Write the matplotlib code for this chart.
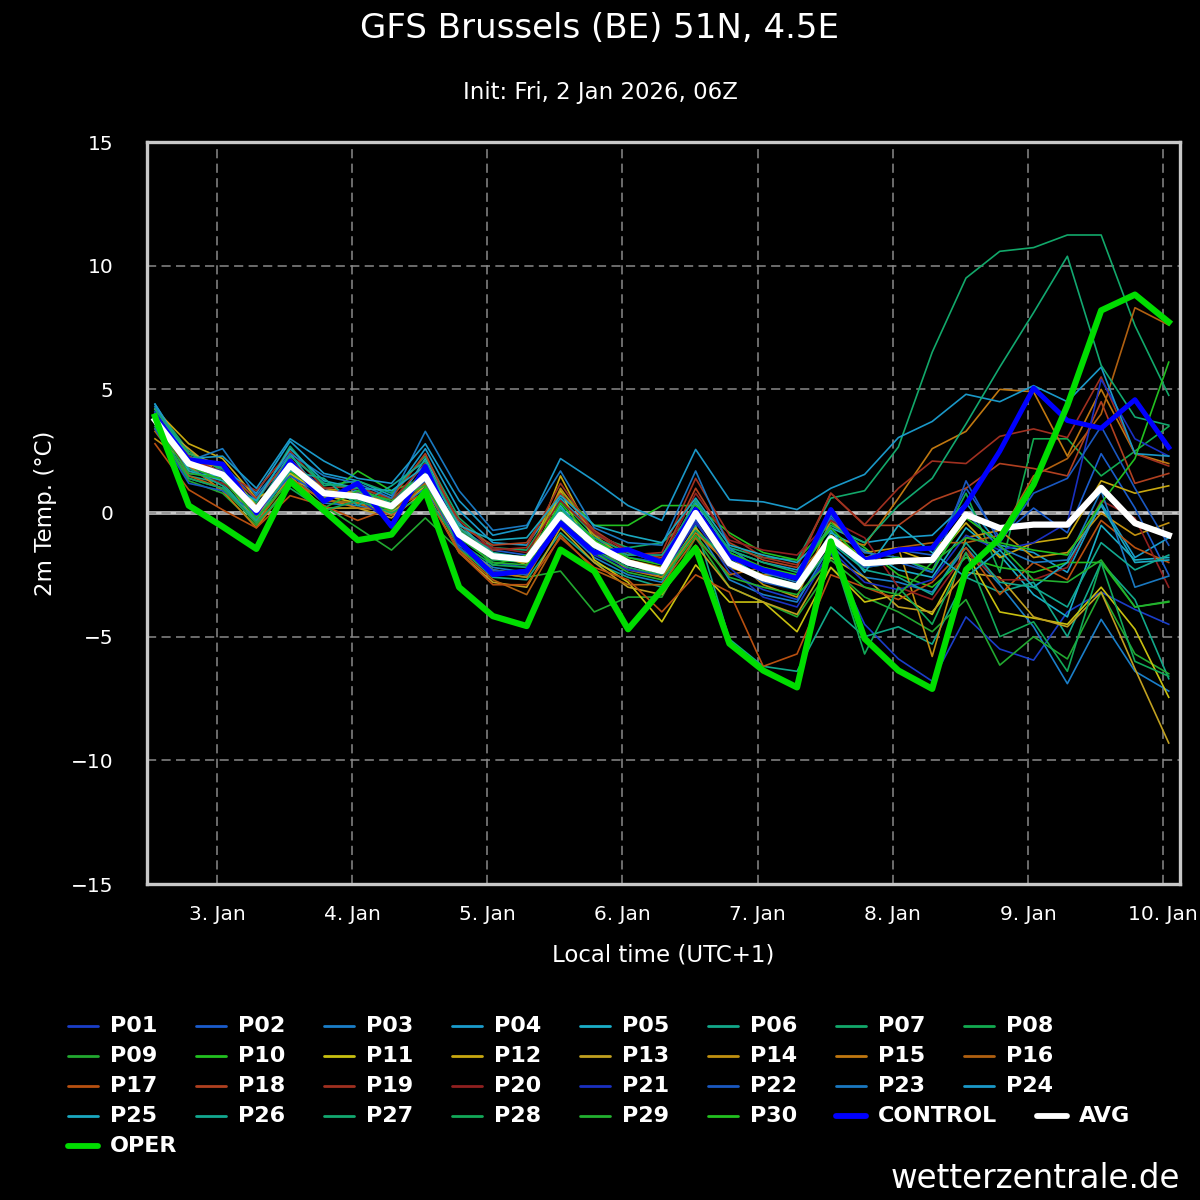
import matplotlib
matplotlib.use("Agg")
import matplotlib.pyplot as plt
from matplotlib.lines import Line2D
import pandas as pd

plt.rcParams['font.family'] = ['DejaVu Sans']

# ---- data ----
start_time = "2026-01-02 13:00"   # local time (UTC+1), 6-hourly steps
n_steps = 31
day_ticks = ["2026-01-03", "2026-01-04", "2026-01-05", "2026-01-06",
             "2026-01-07", "2026-01-08", "2026-01-09", "2026-01-10"]
day_labels = ["3. Jan", "4. Jan", "5. Jan", "6. Jan", "7. Jan", "8. Jan", "9. Jan", "10. Jan"]
y_ticks = [-15, -10, -5, 0, 5, 10, 15]

P01 = [4.0, 1.8, 1.4, 0.2, 2.1, 1.0, 0.6, 0.0, 1.9, -1.0, -2.0, -2.2, -0.4, -1.6, -2.2, -2.6, -0.3, -2.4, -3.1, -3.5, -1.6, -4.5, -5.9, -6.8, -4.2, -5.5, -5.95, -4.0, -3.2, -3.9, -4.5]
P02 = [4.2, 2.2, 2.0, 0.5, 2.3, 1.2, 0.9, 0.4, 2.0, -0.6, -1.5, -1.7, 0.2, -1.0, -1.8, -2.0, 0.5, -1.6, -2.3, -2.6, -0.2, -1.8, -1.5, -1.7, 1.0, -1.0, 0.2, -0.8, 2.4, 0.2, -2.5]
P03 = [3.6, 1.4, 1.0, -0.2, 1.6, 0.4, 0.3, 0.0, 1.0, -1.3, -2.2, -2.4, -0.5, -1.8, -2.5, -2.8, -0.6, -2.7, -3.3, -3.6, -1.3, -2.6, -2.8, -3.2, -1.4, -2.9, -4.6, -6.9, -4.3, -6.4, -7.2]
P04 = [4.4, 2.3, 1.8, 0.8, 2.9, 1.6, 1.3, 0.7, 2.6, 0.1, -1.2, -1.3, 0.6, -0.8, -1.5, -1.9, 0.4, -1.5, -2.0, -2.3, -0.6, -1.2, -1.0, -0.9, 0.4, -1.3, -1.6, -2.4, 0.4, -1.8, -1.0]
P05 = [4.1, 1.6, 1.5, 0.1, 2.4, 0.6, 0.9, 0.1, 2.2, -0.4, -1.8, -1.9, 0.3, -1.4, -2.0, -2.3, -0.2, -1.8, -2.6, -3.0, -0.8, -1.5, -2.3, -2.6, -0.6, -1.7, -3.3, -4.2, -0.5, -1.9, -1.8]
P06 = [3.9, 1.5, 1.2, -0.3, 2.0, 0.5, 0.4, 0.2, 1.2, -1.4, -2.6, -2.7, -0.8, -2.0, -2.6, -3.0, -0.5, -5.1, -6.2, -6.4, -3.8, -5.0, -4.6, -5.3, -2.6, -3.2, -2.8, -5.0, -2.0, -3.5, -6.7]
P07 = [4.3, 2.5, 1.7, 0.4, 2.7, 1.1, 1.3, 0.8, 2.3, -0.2, -1.4, -1.5, 0.5, -0.9, -1.4, -1.2, -0.1, -1.4, -1.8, -1.9, 0.6, 0.9, 2.67, 6.5, 9.5, 10.58, 10.73, 11.24, 11.24, 7.58, 4.76]
P08 = [3.8, 2.0, 1.6, 0.0, 1.8, 0.9, 0.5, 0.6, 1.6, -0.9, -1.9, -2.0, 0.1, -1.2, -2.1, -2.2, 0.2, -2.0, -2.5, -2.9, -0.9, -2.2, -2.0, -1.8, 0.8, -2.4, 3.0, 3.0, 1.5, 2.5, 3.5]
P09 = [3.5, 1.3, 0.8, -0.5, 1.2, 0.3, -0.6, -1.5, -0.2, -1.5, -2.4, -2.6, -2.35, -4.0, -3.4, -3.4, -1.0, -3.0, -3.6, -4.2, -2.2, -3.4, -4.0, -4.8, -3.5, -6.15, -5.0, -5.9, -3.2, -5.7, -6.5]
P10 = [3.7, 1.9, 1.3, -0.1, 1.7, 0.6, 1.7, 0.9, 1.4, -0.8, -2.1, -1.7, 0.9, -0.5, -0.5, 0.3, 0.3, -0.8, -1.6, -1.9, -0.4, -1.4, -2.5, -3.0, -1.8, -2.2, -2.4, -2.0, -2.0, -3.8, -3.6]
P11 = [3.9, 2.4, 1.9, 0.3, 1.6, 0.7, 0.4, 0.0, 1.1, -1.2, -2.3, -2.5, 0.9, -1.9, -2.8, -4.4, -2.1, -3.6, -3.6, -4.8, -2.2, -3.6, -3.3, -4.1, -1.6, -4.0, -4.25, -4.5, -3.0, -4.7, -7.45]
P12 = [4.2, 2.8, 2.2, 0.6, 1.3, 0.9, 0.8, 0.3, 1.5, -0.6, -1.6, -2.1, 1.5, -1.1, -2.0, -2.6, -0.6, -2.2, -2.6, -3.0, -0.9, -1.8, -1.5, -2.0, -0.4, -1.8, -1.2, -1.0, 1.3, 0.8, 1.1]
P13 = [3.7, 2.6, 1.5, -0.4, 1.5, 0.2, 0.2, -0.2, 0.9, -1.6, -2.8, -3.0, -0.6, -2.0, -3.0, -3.3, -1.3, -3.0, -3.6, -4.1, -1.8, -2.6, -3.8, -4.0, -2.4, -2.6, -4.2, -4.6, -3.2, -6.3, -9.3]
P14 = [3.0, 2.0, 1.9, -0.2, 1.9, 1.0, 0.8, 0.4, 1.7, -0.7, -1.7, -2.0, 1.0, -0.9, -1.9, -2.2, 0.2, -1.7, -2.9, -3.4, -0.3, -1.6, -1.4, -5.8, -1.0, -0.7, -1.8, -1.6, 0.0, -0.9, -0.4]
P15 = [3.4, 1.9, 0.9, -0.6, 1.2, 0.6, 0.2, 0.1, 1.3, -1.1, -2.4, -2.6, -0.3, -1.3, -2.3, -2.6, -0.8, -2.1, -2.5, -2.5, -1.0, -1.3, 0.6, 2.6, 3.3, 5.0, 4.9, 2.3, 5.0, 2.4, 2.0]
P16 = [3.3, 1.5, 1.0, -0.4, 1.4, 0.5, 0.4, -0.1, 1.2, -1.5, -2.7, -3.3, -0.9, -2.3, -2.9, -2.9, -1.0, -2.5, -2.2, -2.6, -1.1, -2.0, -1.4, -1.2, -1.2, -0.9, 1.5, 2.2, 4.0, 8.3, 7.6]
P17 = [2.8, 0.94, 0.13, -0.6, 0.7, 0.3, -0.3, 0.2, 0.8, -1.6, -2.9, -2.9, -1.0, -2.2, -2.7, -4.0, -2.5, -3.2, -6.2, -5.7, -2.5, -3.0, -3.5, -2.8, -1.4, -3.3, -2.0, -2.7, -0.3, -1.4, -2.0]
P18 = [3.9, 2.1, 1.7, 0.6, 2.2, 0.8, 1.0, 0.6, 2.4, -0.5, -1.3, -1.2, 0.8, -0.7, -1.6, -1.8, 1.0, -1.2, -1.9, -2.2, 0.8, -0.5, -0.5, 0.5, 1.0, 2.0, 1.8, 1.5, 4.5, 1.2, 1.6]
P19 = [4.0, 2.3, 1.6, 0.9, 2.5, 1.0, 1.1, 0.5, 2.0, -0.3, -1.5, -1.4, 1.2, -0.8, -1.7, -1.6, 1.4, -0.9, -1.8, -2.1, 0.8, -0.47, 1.0, 2.1, 2.0, 3.1, 3.4, 3.05, 5.5, 2.4, 1.9]
P20 = [3.6, 1.7, 1.2, 0.3, 2.0, 0.7, 0.7, 0.3, 1.5, -0.8, -1.4, -1.6, 0.5, -0.8, -1.5, -1.9, 0.8, -1.1, -1.5, -1.7, -0.3, -1.0, -3.0, -3.5, -1.6, -2.7, -2.7, -2.2, 0.5, -0.2, -3.0]
P21 = [4.1, 2.0, 1.7, 0.1, 1.9, 0.9, 0.6, -0.4, 1.8, -1.1, -2.4, -2.3, -0.2, -1.7, -2.3, -2.5, -0.4, -2.2, -3.4, -3.8, -1.5, -2.8, -3.1, -2.7, -0.9, -1.5, -1.2, -0.4, 5.4, 3.0, 2.3]
P22 = [3.4, 1.2, 0.9, 0.0, 1.5, 0.7, 0.8, 0.2, 1.3, -1.4, -2.3, -2.5, -0.1, -1.4, -2.1, -2.4, -0.2, -2.0, -2.8, -3.1, -1.1, -2.2, -2.0, -2.4, 1.3, -1.2, 0.8, 1.4, 3.5, 1.0, -1.3]
P23 = [4.3, 2.1, 2.6, 0.7, 2.4, 1.5, 1.2, 0.6, 3.3, 0.9, -0.7, -0.5, 1.7, -0.6, -1.2, -1.3, 1.7, -1.4, -2.4, -2.8, -0.1, -1.6, -1.8, -2.4, 0.0, -1.4, -2.0, -1.9, 0.9, -3.0, -2.55]
P24 = [4.4, 2.2, 2.3, 1.0, 3.0, 2.1, 1.4, 1.2, 2.8, 0.5, -0.9, -0.6, 2.2, 1.3, 0.3, -0.3, 2.57, 0.54, 0.45, 0.14, 1.0, 1.56, 3.05, 3.7, 4.8, 4.5, 5.15, 4.5, 5.9, 2.4, 2.3]
P25 = [4.0, 1.7, 1.3, 0.5, 2.6, 1.3, 1.0, 0.9, 1.9, -0.5, -1.1, -1.0, 0.7, -0.5, -0.9, -1.2, 0.6, -1.3, -1.7, -2.0, -0.7, -2.4, -0.5, -1.6, -2.6, -1.5, -3.0, -2.0, 0.3, -2.0, -1.9]
P26 = [3.8, 1.8, 1.1, -0.3, 1.7, 1.4, 0.3, 1.1, 2.1, -0.6, -1.6, -1.8, 0.2, -1.2, -1.7, -1.7, 0.1, -1.7, -2.3, -2.7, -1.2, -2.3, -2.6, -3.3, -1.2, -2.8, -3.0, -3.8, -1.2, -2.3, -1.7]
P27 = [4.2, 2.4, 1.8, 0.2, 2.3, 1.2, 1.0, 0.4, 1.7, -0.7, -1.7, -1.8, 0.0, -1.0, -1.6, -2.0, 0.5, -1.5, -2.0, -2.4, -0.5, -1.2, 0.3, 1.4, 3.6, 5.9, 8.1, 10.38, 5.97, 3.88, 3.55]
P28 = [3.5, 1.4, 1.0, -0.4, 1.0, 0.1, 0.5, 0.0, 0.7, -1.2, -2.1, -2.2, -0.3, -1.5, -2.2, -2.5, -0.7, -1.9, -2.7, -3.1, -1.4, -5.7, -3.0, -4.5, -1.6, -5.0, -4.4, -6.4, -2.0, -6.0, -6.6]
P29 = [3.6, 1.6, 1.4, -0.2, 1.3, 0.2, 0.9, 0.5, 1.1, -1.0, -2.0, -2.1, -0.5, -1.6, -2.4, -2.7, -0.9, -2.6, -3.0, -3.3, -1.9, -3.0, -3.3, -2.0, -1.0, -1.3, -2.7, -2.8, -1.9, -3.8, -3.57]
P30 = [3.9, 2.1, 1.5, 0.0, 2.0, 0.8, 0.6, 0.1, 1.5, -0.9, -1.8, -1.9, 0.4, -1.1, -1.8, -2.1, 0.0, -1.6, -2.2, -2.5, -0.6, -2.0, -1.8, -2.3, -0.2, -1.2, -1.5, -1.7, 0.4, 2.2, 6.1]

CONTROL = [3.9, 2.15, 1.98, 0.0, 2.1, 0.47, 1.2, -0.54, 1.88, -1.14, -2.49, -2.35, -0.4, -1.6, -1.48, -2.0, 0.14, -1.76, -2.3, -2.64, 0.14, -1.9, -1.49, -1.42, 0.34, 2.5, 5.05, 3.74, 3.43, 4.58, 2.65]
AVG = [3.76, 2.0, 1.55, 0.13, 1.92, 0.8, 0.67, 0.27, 1.48, -0.87, -1.75, -1.88, -0.07, -1.28, -2.0, -2.35, 0.0, -2.03, -2.64, -2.98, -1.02, -2.03, -1.94, -1.9, -0.07, -0.61, -0.47, -0.47, 1.02, -0.41, -0.9]
OPER = [3.9, 0.3, -0.55, -1.45, 1.28, 0.1, -1.1, -0.87, 0.87, -3.0, -4.17, -4.57, -1.48, -2.35, -4.7, -3.1, -1.42, -5.28, -6.37, -7.05, -1.15, -5.08, -6.37, -7.11, -2.3, -1.02, 1.15, 4.35, 8.19, 8.83, 7.72]

members = [P01, P02, P03, P04, P05, P06, P07, P08, P09, P10,
           P11, P12, P13, P14, P15, P16, P17, P18, P19, P20,
           P21, P22, P23, P24, P25, P26, P27, P28, P29, P30]
member_names = ["P%02d" % (k + 1) for k in range(30)]
member_colors = ["#1a3ec8", "#1a5ccc", "#1a7ec8", "#1a9ccc", "#1aaec8",
                 "#12a88a", "#12a86a", "#12aa50", "#22a830", "#22c020",
                 "#c8c010", "#c8a810", "#c0a020", "#c09010", "#c07810",
                 "#b06010", "#b85010", "#b04020", "#a03020", "#902020",
                 "#1a30c0", "#1a58c0", "#1a78c0", "#1a98c8", "#1aa8c0",
                 "#12a890", "#12a870", "#12a858", "#22b030", "#22c020"]

times = pd.date_range(start_time, periods=n_steps, freq="6h")

# ---- figure ----
fig = plt.figure(figsize=(12, 12), dpi=100, facecolor="black")
ax = fig.add_axes([147 / 1200, 1 - 884 / 1200, (1180 - 147) / 1200, (884 - 142) / 1200])
ax.set_facecolor("black")

handles = []
for vals, name, col in zip(members, member_names, member_colors):
    h, = ax.plot(times, vals, color=col, lw=1.2, zorder=3, label=name)
    handles.append(h)
hc, = ax.plot(times, CONTROL, color="#0000ff", lw=3.6, zorder=4, label="CONTROL")
ha, = ax.plot(times, AVG, color="white", lw=4.5, zorder=5, label="AVG")
ho, = ax.plot(times, OPER, color="#00dd00", lw=4.5, zorder=6, label="OPER")
handles += [hc, ha, ho]

ax.set_ylim(-15, 15)
ax.set_xlim(pd.Timestamp("2026-01-02 11:35"), pd.Timestamp("2026-01-10 03:00"))
ax.set_yticks(y_ticks)
ax.set_xticks(pd.to_datetime(day_ticks))
ax.set_xticklabels(day_labels)
ax.tick_params(axis="both", length=0, colors="white", labelsize=14.5)
ax.tick_params(axis="x", pad=15)
ax.tick_params(axis="y", pad=24)
for lab in ax.get_yticklabels():
    lab.set_horizontalalignment("right")

ax.set_axisbelow(True)
ax.grid(True, color="#8a8a8a", lw=1.1, ls=(0, (6, 3.5)))
ax.axhline(0, color="#c8c8c8", lw=2.6, zorder=0.4)

for sp in ax.spines.values():
    sp.set_color("#c8c8c8")
    sp.set_linewidth(2.4)

ax.set_xlabel("Local time (UTC+1)", color="white", fontsize=16.5, labelpad=14)
ax.set_ylabel("2m Temp. (°C)", color="white", fontsize=16.5, labelpad=10)

fig.text(0.5, 1 - 28 / 1200, "GFS Brussels (BE) 51N, 4.5E", color="white",
         fontsize=24.5, ha="center", va="center")
fig.text(0.5, 1 - 92 / 1200, "Init: Fri, 2 Jan 2026, 06Z", color="white",
         fontsize=16.5, ha="center", va="center")
fig.text(1180 / 1200, 1 - 1178 / 1200, "wetterzentrale.de", color="white",
         fontsize=23.5, ha="right", va="center")

# ---- legend (flow layout like the original) ----
col_x = [68 + 128 * c for c in range(8)]
row_y = [1026 + 30 * r for r in range(5)]
positions = []
for k in range(30):
    positions.append((col_x[k % 8], row_y[k // 8]))
positions.append((col_x[6], row_y[3]))   # CONTROL
positions.append((1037, row_y[3]))       # AVG
positions.append((col_x[0], row_y[4]))   # OPER
for h, (px, py) in zip(handles, positions):
    yf = 1 - py / 1200
    lw = h.get_linewidth()
    lw_leg = 2.0 if lw < 2 else 4.2
    fig.add_artist(Line2D([px / 1200, (px + 30) / 1200], [yf, yf],
                          transform=fig.transFigure, color=h.get_color(),
                          lw=lw_leg, solid_capstyle="round"))
    fig.text((px + 42) / 1200, yf, h.get_label(), color="white",
             fontsize=16, fontweight="bold", ha="left", va="center")

fig.savefig("out.png", dpi=100, facecolor="black")
